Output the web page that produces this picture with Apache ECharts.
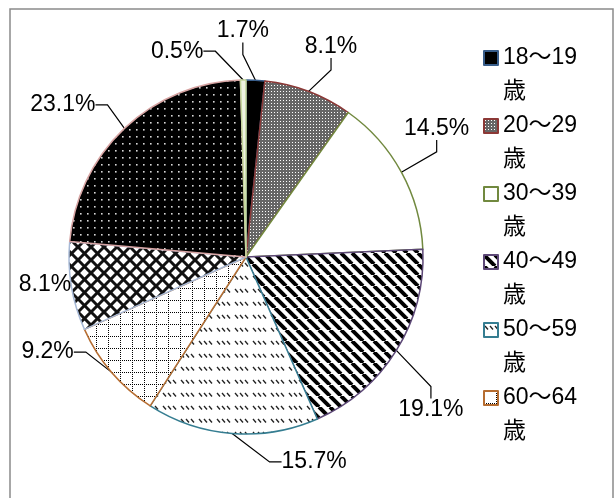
<!DOCTYPE html>
<html>
<head>
<meta charset="utf-8">
<script src="https://cdn.jsdelivr.net/npm/echarts@6/dist/echarts.min.js"></script>
<style>
  html, body { margin: 0; padding: 0; background: #fff; }
  #main { width: 616px; height: 498px; }
</style>
</head>
<body>
<div id="main"></div>
<script>
  var ageGroups = ['18〜19歳', '20〜29歳', '30〜39歳', '40〜49歳', '50〜59歳', '60〜64歳', '65〜69歳', '70歳以上', '無回答']
  var shares = [1.7, 8.1, 14.5, 19.1, 15.7, 9.2, 8.1, 23.1, 0.5]
  var legendNames = ageGroups.slice(0, 6)  // 凡例は6項目まで表示

  var FONT = '"Liberation Sans", "Noto Sans CJK JP", sans-serif'
  var CENTER = [246, 257]

  // ラベル位置（円の中心からの角度[度, 12時から時計回り], 距離）
  var labelSpots = [[-0.8, 226], [22, 227], [56, 230], [129.6, 240], [161.6, 216], [244.4, 220], [262.1, 203], [309.7, 238], [341.5, 217]]
  var showLeader = [true, true, true, true, true, true, false, true, true]

  function tile(w, h, draw) {
    var c = document.createElement('canvas')
    c.width = w
    c.height = h
    var ctx = c.getContext('2d')
    ctx.fillStyle = '#fff'
    ctx.fillRect(0, 0, w, h)
    draw(ctx, w, h)
    return { image: c, repeat: 'repeat' }
  }

  var fills = [
    '#000000',
    tile(3, 3, function (ctx) {
      ctx.fillStyle = '#666'; ctx.fillRect(0, 0, 3, 3)
      ctx.fillStyle = '#fff'; ctx.fillRect(1, 1, 1, 1)
    }),
    '#ffffff',
    tile(11, 11, function (ctx, w, h) {
      ctx.strokeStyle = '#000'; ctx.lineWidth = 3.9
      for (var o = -w; o <= w; o += w) {
        ctx.beginPath(); ctx.moveTo(o, 0); ctx.lineTo(o + w, h); ctx.stroke()
      }
    }),
    tile(18, 13, function (ctx) {
      ctx.strokeStyle = '#222'; ctx.lineWidth = 1.3
      for (var x = 1; x < 15; x += 5) {
        ctx.beginPath(); ctx.moveTo(x, 3); ctx.lineTo(x + 3, 6.5); ctx.stroke()
      }
    }),
    tile(12, 12, function (ctx, w) {
      ctx.fillStyle = '#000'
      for (var i = 0; i < w; i += 2) { ctx.fillRect(i, 0, 1, 1); ctx.fillRect(0, i, 1, 1) }
    }),
    tile(13, 13, function (ctx, w, h) {
      ctx.strokeStyle = '#111'; ctx.lineWidth = 3
      for (var o = -w; o <= w; o += w) {
        ctx.beginPath(); ctx.moveTo(o, h); ctx.lineTo(o + w, 0); ctx.stroke()
        ctx.beginPath(); ctx.moveTo(o, 0); ctx.lineTo(o + w, h); ctx.stroke()
      }
    }),
    tile(7, 7, function (ctx, w, h) {
      ctx.fillStyle = '#000'; ctx.fillRect(0, 0, w, h)
      ctx.fillStyle = '#d8d8d8'; ctx.fillRect(3, 3, 1.6, 1.6)
    }),
    '#eef3e2'
  ]
  var borders = ['#385D8A', '#8C3836', '#71893F', '#5C4776', '#357D91', '#B66D31', '#A7B9D6', '#D7A4A3', '#C3D69B']

  var chart = echarts.init(document.getElementById('main'))
  chart.setOption({
    backgroundColor: '#fff',
    animation: false,
    graphic: [{
      type: 'rect',
      shape: { x: 10, y: 9, width: 603, height: 500 },
      style: { fill: 'none', stroke: '#8a8a8a', lineWidth: 1.5 },
      silent: true
    }],
    legend: {
      orient: 'vertical',
      left: 483,
      top: 7,
      padding: 0,
      itemGap: -34,
      itemWidth: 14,
      itemHeight: 14,
      icon: 'rect',
      data: legendNames,
      formatter: function (name) {
        return '\n' + name.replace('歳', '\n歳')
      },
      textStyle: {
        fontFamily: FONT,
        fontSize: 23,
        color: '#000',
        lineHeight: 34
      }
    },
    series: [{
      type: 'pie',
      center: CENTER,
      radius: 177,
      startAngle: 90,
      clockwise: true,
      avoidLabelOverlap: false,
      itemStyle: { borderWidth: 1.5 },
      emphasis: { disabled: true },
      label: {
        show: true,
        position: 'outside',
        fontFamily: FONT,
        fontSize: 23,
        color: '#000',
        formatter: function (p) { return p.value.toFixed(1) + '%' }
      },
      labelLine: {
        show: true,
        length: 8,
        length2: 12,
        lineStyle: { color: '#000', width: 1.2 }
      },
      labelLayout: function (p) {
        var s = labelSpots[p.dataIndex]
        var a = s[0] * Math.PI / 180
        return {
          x: CENTER[0] + s[1] * Math.sin(a),
          y: CENTER[1] - s[1] * Math.cos(a),
          align: 'center',
          verticalAlign: 'middle'
        }
      },
      data: ageGroups.map(function (name, i) {
        return {
          name: name,
          value: shares[i],
          itemStyle: { color: fills[i], borderColor: borders[i] },
          labelLine: { show: showLeader[i] }
        }
      })
    }]
  })
</script>
</body>
</html>
